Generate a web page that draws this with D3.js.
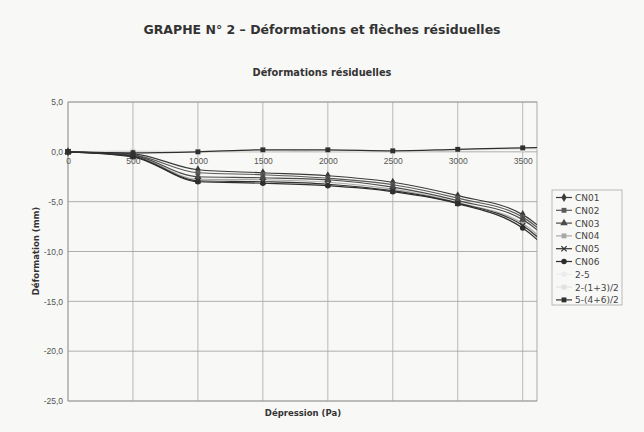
<!DOCTYPE html>
<html>
<head>
<meta charset="utf-8">
<script src="https://cdn.jsdelivr.net/npm/d3@7"></script>
<style>
  body { margin: 0; background: #f8f8f6; }
  svg { display: block; }
</style>
</head>
<body>
<div id="chart"></div>
<script>
// =============================================================
// DATA

let pressures = [0, 500, 1000, 1500, 2000, 2500, 3000, 3500, 4000];
let seriesNames = ['CN01', 'CN02', 'CN03', 'CN04', 'CN05', 'CN06', '2-5', '2-(1+3)/2', '5-(4+6)/2'];

let cn01 = [0, -0.2, -1.8, -2.1, -2.4, -3.05, -4.4, -6.3, -12.6];
let cn02 = [0, -0.3, -2.1, -2.3, -2.65, -3.3, -4.65, -6.55, -12.9];
let cn03 = [0, -0.35, -2.5, -2.6, -2.8, -3.55, -4.9, -6.8, -13.2];
let cn04 = [0, -0.4, -2.75, -2.8, -3.05, -3.75, -5.1, -7.2, -13.6];
let cn05 = [0, -0.45, -2.9, -3.0, -3.25, -3.9, -5.15, -7.4, -13.9];
let cn06 = [0, -0.5, -3.0, -3.15, -3.4, -4.0, -5.2, -7.65, -14.3];
let s25 = [0, -0.1, 0.1, 0.1, 0.2, 0.1, 0.2, 0.3, 0.4];
let s213 = [0, 0.1, 0.0, 0.2, 0.1, 0.0, 0.2, 0.3, 0.4];
let s546 = [0, -0.1, 0.0, 0.2, 0.2, 0.1, 0.25, 0.4, 0.5];

let xTicks = [0, 500, 1000, 1500, 2000, 2500, 3000, 3500];
let yTicks = [5, 0, -5, -10, -15, -20, -25];

let allValues = [cn01, cn02, cn03, cn04, cn05, cn06, s25, s213, s546];

// =============================================================
// STYLE PER SERIES
let colours = ['#3a3a3a', '#5a5a5a', '#4a4a4a', '#a8a8a8', '#333333', '#2e2e2e', '#ececec', '#e2e2e2', '#2f2f2f'];
let symbols = [d3.symbolDiamond, d3.symbolSquare, d3.symbolTriangle, d3.symbolSquare, d3.symbolX,
               d3.symbolCircle, d3.symbolSquare, d3.symbolSquare, d3.symbolSquare];
let drawOrder = [6, 7, 3, 0, 1, 2, 4, 5, 8];   // pale ones first, dark on top

// =============================================================
// MAIN
let width = 644, height = 432;
let plot = { left: 68, right: 537, top: 102, bottom: 401 };

let svg = d3.select('#chart').append('svg')
    .attr('width', width)
    .attr('height', height);

svg.append('rect').attr('width', width).attr('height', height).attr('fill', '#f8f8f6');

let x = d3.scaleLinear().domain([0, 3610]).range([plot.left, plot.right]);
let y = d3.scaleLinear().domain([-25, 5]).range([plot.bottom, plot.top]);

// titles
svg.append('text')
    .attr('x', 322).attr('y', 34)
    .attr('text-anchor', 'middle')
    .attr('font-family', 'DejaVu Sans, Verdana, sans-serif')
    .attr('font-weight', 'bold')
    .attr('font-size', 12.5)
    .attr('fill', '#333')
    .text('GRAPHE N° 2 – Déformations et flèches résiduelles');

svg.append('text')
    .attr('x', 322).attr('y', 76)
    .attr('text-anchor', 'middle')
    .attr('font-family', 'DejaVu Sans, Verdana, sans-serif')
    .attr('font-weight', 'bold')
    .attr('font-size', 9.8)
    .attr('fill', '#333')
    .text('Déformations résiduelles');

// grid
svg.append('g')
    .selectAll('line')
    .data(yTicks)
    .enter()
    .append('line')
    .attr('x1', plot.left).attr('x2', plot.right)
    .attr('y1', d => y(d)).attr('y2', d => y(d))
    .attr('stroke', '#9a9a9a')
    .attr('stroke-width', 0.8);

svg.append('g')
    .selectAll('line')
    .data(xTicks)
    .enter()
    .append('line')
    .attr('x1', d => x(d)).attr('x2', d => x(d))
    .attr('y1', plot.top).attr('y2', plot.bottom)
    .attr('stroke', '#a8a8a8')
    .attr('stroke-width', 0.8);

svg.append('rect')
    .attr('x', plot.left).attr('y', plot.top)
    .attr('width', plot.right - plot.left).attr('height', plot.bottom - plot.top)
    .attr('fill', 'none')
    .attr('stroke', '#9a9a9a')
    .attr('stroke-width', 0.8);

// y axis labels
let yAxis = d3.axisLeft(y)
    .tickValues(yTicks)
    .tickSize(0)
    .tickPadding(5)
    .tickFormat(d => d3.format('.1f')(d).replace('.', ',').replace('−', '-'));

svg.append('g')
    .attr('transform', 'translate(' + plot.left + ',0)')
    .call(yAxis)
    .call(g => g.select('.domain').remove())
    .selectAll('text')
    .attr('font-family', 'Liberation Sans, Arial, sans-serif')
    .attr('font-size', 8.5)
    .attr('fill', '#555');

// x axis crossing at 0
let xAxis = d3.axisBottom(x)
    .tickValues(xTicks)
    .tickSize(0)
    .tickPadding(6)
    .tickFormat(d3.format('d'));

svg.append('g')
    .attr('transform', 'translate(0,' + y(0) + ')')
    .call(xAxis)
    .call(g => g.select('.domain').remove())
    .selectAll('text')
    .attr('font-family', 'Liberation Sans, Arial, sans-serif')
    .attr('font-size', 8.5)
    .attr('fill', '#555');

// axis titles
svg.append('text')
    .attr('transform', 'translate(39,' + 251 + ') rotate(-90)')
    .attr('text-anchor', 'middle')
    .attr('font-family', 'DejaVu Sans, Verdana, sans-serif')
    .attr('font-weight', 'bold')
    .attr('font-size', 8.5)
    .attr('fill', '#333')
    .text('Déformation (mm)');

svg.append('text')
    .attr('x', 303).attr('y', 416)
    .attr('text-anchor', 'middle')
    .attr('font-family', 'DejaVu Sans, Verdana, sans-serif')
    .attr('font-weight', 'bold')
    .attr('font-size', 8.5)
    .attr('fill', '#333')
    .text('Dépression (Pa)');

// clip
svg.append('clipPath').attr('id', 'plotclip')
    .append('rect')
    .attr('x', plot.left - 4).attr('y', plot.top)
    .attr('width', plot.right - plot.left + 4).attr('height', plot.bottom - plot.top);

let line = d3.line()
    .x((d, i) => x(pressures[i]))
    .y(d => y(d))
    .curve(d3.curveMonotoneX);

let series = svg.append('g').attr('clip-path', 'url(#plotclip)');

drawOrder.forEach(function(k) {
    let vals = allValues[k];
    let g = series.append('g');
    g.append('path')
        .attr('d', line(vals))
        .attr('fill', 'none')
        .attr('stroke', colours[k])
        .attr('stroke-width', 1.2);
    g.selectAll('path.mark')
        .data(vals)
        .enter()
        .append('path')
        .attr('class', 'mark')
        .attr('transform', (d, i) => 'translate(' + x(pressures[i]) + ',' + y(d) + ')')
        .attr('d', d3.symbol().type(symbols[k]).size(symbols[k] === d3.symbolX ? 20 : 24))
        .attr('fill', colours[k])
        .attr('stroke', colours[k])
        .attr('stroke-width', symbols[k] === d3.symbolX ? 1.2 : 0);
});

// legend
let legend = svg.append('g').attr('transform', 'translate(552,190)');
legend.append('rect')
    .attr('width', 70).attr('height', 115)
    .attr('fill', '#f8f8f6')
    .attr('stroke', '#aaa')
    .attr('stroke-width', 0.8);

let items = legend.selectAll('g.item')
    .data(seriesNames)
    .enter()
    .append('g')
    .attr('class', 'item')
    .attr('transform', (d, i) => 'translate(0,' + (7.5 + i * 12.8) + ')');

items.append('line')
    .attr('x1', 4).attr('x2', 20)
    .attr('stroke', (d, i) => colours[i])
    .attr('stroke-width', 1.2);

items.append('path')
    .attr('transform', 'translate(12,0)')
    .attr('d', (d, i) => d3.symbol().type(symbols[i]).size(symbols[i] === d3.symbolX ? 20 : 24)())
    .attr('fill', (d, i) => colours[i])
    .attr('stroke', (d, i) => colours[i])
    .attr('stroke-width', (d, i) => symbols[i] === d3.symbolX ? 1.2 : 0);

items.append('text')
    .attr('x', 23).attr('y', 3.5)
    .attr('font-family', 'DejaVu Sans, Verdana, sans-serif')
    .attr('font-size', 9)
    .attr('fill', '#444')
    .text(d => d);
</script>
</body>
</html>
